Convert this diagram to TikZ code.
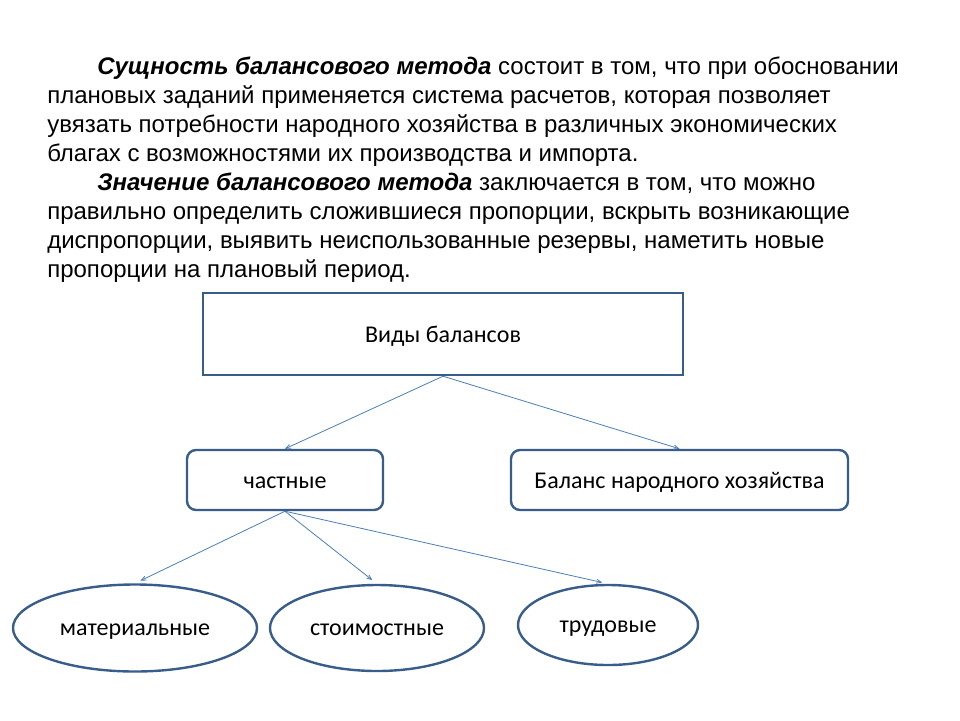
\documentclass[tikz,border=0pt]{standalone}
\usepackage{fontspec}
\setmainfont{Liberation Sans}
\newfontfamily\calibri{Carlito}
\usetikzlibrary{shapes,arrows,positioning}
\definecolor{boxline}{HTML}{385D8A}
\definecolor{arrowline}{HTML}{4A7EBB}

\begin{document}
\begin{tikzpicture}[x=1pt,y=-1pt,>=angle 45,semithick]
\tikzstyle{kind}=[draw=boxline,line width=2.4pt,fill=white,minimum width=480pt,minimum height=82pt,text height=20pt,text depth=4pt,font=\calibri\fontsize{24}{28}\selectfont]
\tikzstyle{sub}=[kind,rounded corners=9pt,minimum height=60pt,text height=21pt]
\tikzstyle{leaf}=[ellipse,draw=boxline,line width=2.4pt,inner sep=0pt,text height=19pt,text depth=4pt,font=\calibri\fontsize{24}{28}\selectfont]
\tikzstyle{link}=[->,draw=arrowline,line width=0.8pt]
\useasboundingbox (0,0) rectangle (960,720);
\node[anchor=north west,align=left,inner sep=0pt,font=\fontsize{24}{29}\selectfont] (text) at (47,57)
  {\hspace*{50pt}\textbf{\textit{Сущность балансового метода}} состоит в том, что при обосновании\\
   плановых заданий применяется система расчетов, которая позволяет\\
   увязать потребности народного хозяйства в различных экономических\\
   благах с возможностями их производства и импорта.\\
   \hspace*{50pt}\textbf{\textit{Значение балансового метода}} заключается в том, что можно\\
   правильно определить сложившиеся пропорции, вскрыть возникающие\\
   диспропорции, выявить неиспользованные резервы, наметить новые\\
   пропорции на плановый период.};
\node[kind] (types) at (443,334) {Виды балансов};
\node[sub,minimum width=196pt] (part) at (285,480) {частные};
\node[sub,minimum width=337pt] (whole) at (679.5,480) {Баланс народного хозяйства};
\node[leaf,minimum width=244pt,minimum height=87pt] (mat) at (135,628) {материальные};
\node[leaf,minimum width=214pt,minimum height=86pt] (cost) at (377,628) {стоимостные};
\node[leaf,minimum width=180pt,minimum height=80pt] (labour) at (608,625) {трудовые};
\path (types.south) edge[link] (part.north)
                    edge[link] (whole.north)
      (part.south)  edge[link,shorten >=6pt] (mat.north)
                    edge[link,shorten >=6pt] (cost.north)
                    edge[link,shorten >=6pt] (labour.north);
\end{tikzpicture}
\end{document}
